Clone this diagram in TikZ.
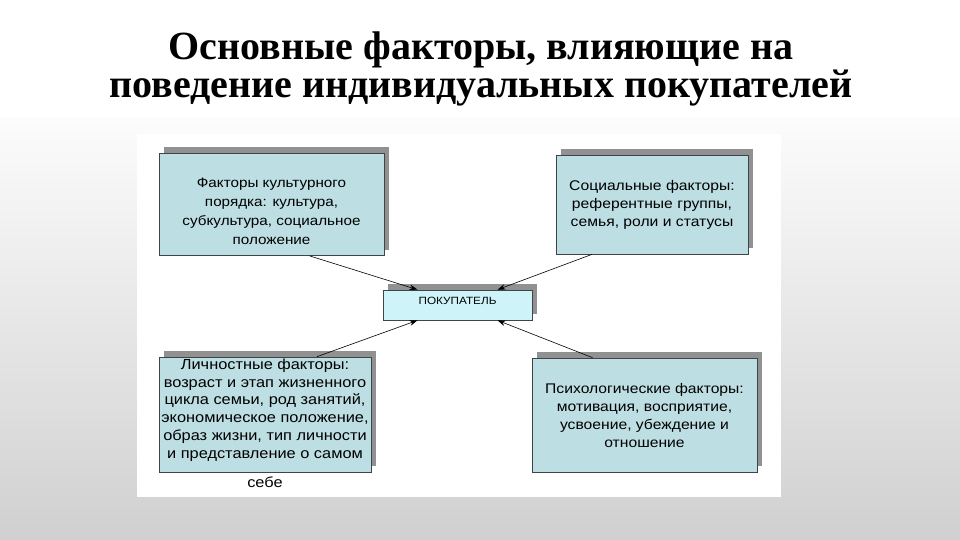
\documentclass[tikz,border=0pt]{standalone}
\usepackage{fontspec}
\setmainfont{Liberation Serif}
\newfontfamily\boxfont[FakeStretch=1.12]{Liberation Sans}
\usetikzlibrary{arrows.meta,shadows}
\definecolor{boxblue}{RGB}{189,222,226}
\definecolor{buyerblue}{RGB}{206,243,248}
\definecolor{edgegray}{RGB}{60,70,72}
\definecolor{shadowgray}{RGB}{145,145,145}
\definecolor{bghigh}{RGB}{252,252,252}
\definecolor{bglow}{RGB}{208,208,208}

\begin{document}
\begin{tikzpicture}[x=1pt,y=-1pt,
  factor/.style={draw=edgegray,line width=.7pt,fill=boxblue,
    drop shadow={shadow xshift=5pt,shadow yshift=6pt,fill=shadowgray,opacity=1},
    font=\boxfont\fontsize{14}{18}\selectfont,align=center,inner sep=0pt},
  boxtext/.style={align=center,inner sep=0pt},
  arr/.style={-{Stealth[length=8pt,width=5.5pt]},line width=.6pt},
  headline/.style={font=\bfseries\fontsize{40}{40}\selectfont,anchor=base,inner sep=0pt}]
  \useasboundingbox (0,0) rectangle (960,540);
  \fill[white] (0,0) rectangle (960,118);
  \begin{scope}[y=1pt]
    \shade[top color=bghigh,bottom color=bglow] (0,-540) rectangle (960,-118);
  \end{scope}
  \fill[white] (137,134) rectangle (781,497);

  \node[headline] (title1) at (481,60) {Основные факторы, влияющие на};
  \node[headline] (title2) at (481,97.5) {поведение индивидуальных покупателей};

  \node[factor,minimum width=225,minimum height=102] (kult) at (271.5,204.5) {};
  \node[boxtext,font=\boxfont\fontsize{13.6}{19}\selectfont] (kulttxt) at ([yshift=-6.5pt]kult.center)
    {Факторы культурного\\порядка: культура,\\субкультура, социальное\\положение};
  \node[factor,minimum width=192,minimum height=99] (soc) at (652,204.5)
    {Социальные факторы:\\референтные группы,\\семья, роли и статусы};
  \node[factor,fill=buyerblue,minimum width=149,minimum height=30,text depth=8pt,
    font=\boxfont\fontsize{10.5}{12}\selectfont] (buyer) at (457.5,305) {ПОКУПАТЕЛЬ};
  \node[factor,minimum width=212,minimum height=115] (lichn) at (265,414.5) {};
  \node[boxtext,font=\boxfont\fontsize{14.6}{17.8}\selectfont,anchor=north] (lichtxt) at (265,358.5)
    {Личностные факторы:\\возраст и этап жизненного\\цикла семьи, род занятий,\\экономическое положение,\\образ жизни, тип личности\\и представление о самом\\[11pt]себе};
  \node[factor,minimum width=225,minimum height=114] (psych) at (644.5,415)
    {Психологические факторы:\\мотивация, восприятие,\\усвоение, убеждение и\\отношение};

  \draw[arr] ([xshift=38pt]kult.south) -- ([xshift=-40pt]buyer.north);
  \draw[arr] ([xshift=-60pt]soc.south) -- ([xshift=40pt]buyer.north);
  \draw[arr] ([xshift=52pt]lichn.north) -- ([xshift=-40pt]buyer.south);
  \draw[arr] ([xshift=-52pt]psych.north) -- ([xshift=40pt]buyer.south);
\end{tikzpicture}
\end{document}
